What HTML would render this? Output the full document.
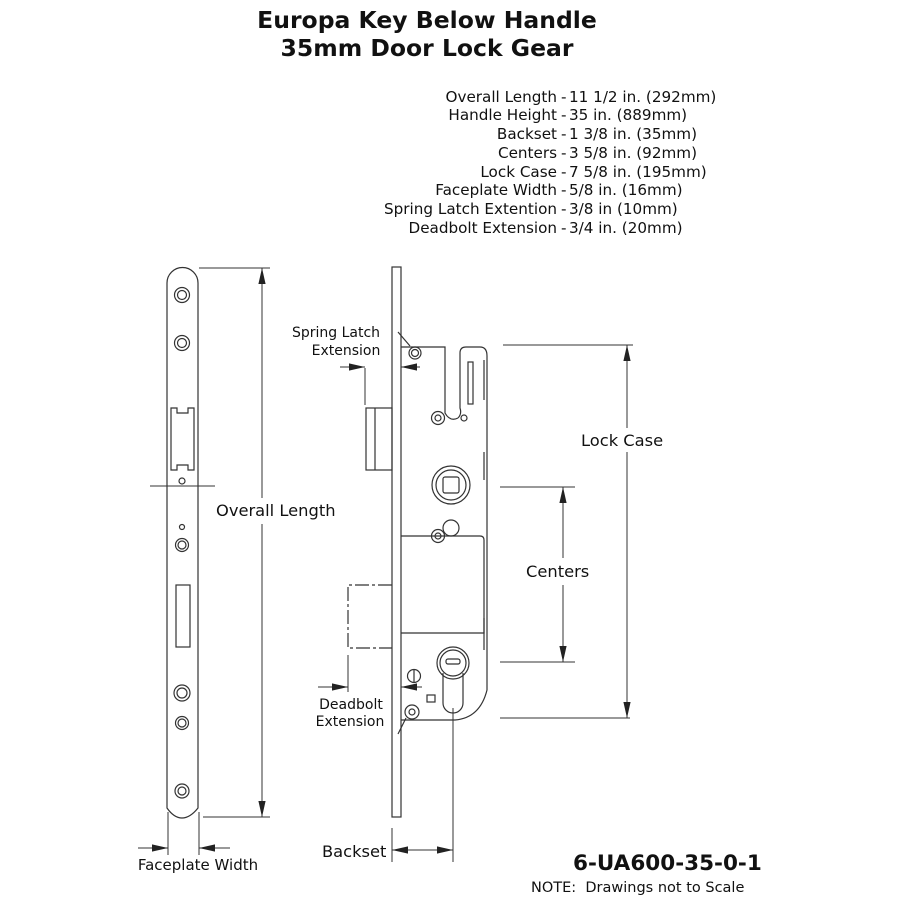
<!DOCTYPE html>
<html><head><style>
body{margin:0;background:#fff;}
svg text{font-family:"DejaVu Sans","Liberation Sans",sans-serif;fill:#111;white-space:pre;}
</style></head><body>
<svg width="900" height="900" viewBox="0 0 900 900" xmlns="http://www.w3.org/2000/svg">
<defs>
<marker id="a" viewBox="0 0 10 10" refX="10" refY="5" markerWidth="16" markerHeight="9" orient="auto-start-reverse" markerUnits="userSpaceOnUse" preserveAspectRatio="none"><path d="M0,1 L10,5 L0,9 z" fill="#222"/></marker>
</defs>
<text x="427" y="28" font-size="23.5" font-weight="bold" text-anchor="middle">Europa Key Below Handle</text>
<text x="427" y="56" font-size="23.5" font-weight="bold" text-anchor="middle">35mm Door Lock Gear</text>
<g font-size="15.2" text-anchor="end">
<text x="557" y="102">Overall Length</text>
<text x="557" y="120">Handle Height</text>
<text x="557" y="139">Backset</text>
<text x="557" y="158">Centers</text>
<text x="557" y="177">Lock Case</text>
<text x="557" y="195">Faceplate Width</text>
<text x="557" y="214">Spring Latch Extention</text>
<text x="557" y="233">Deadbolt Extension</text>
</g>
<g font-size="15.2">
<text x="561" y="102">-</text><text x="561" y="120">-</text><text x="561" y="139">-</text><text x="561" y="158">-</text>
<text x="561" y="177">-</text><text x="561" y="195">-</text><text x="561" y="214">-</text><text x="561" y="233">-</text>
<text x="569" y="102">11 1/2 in. (292mm)</text>
<text x="569" y="120">35 in. (889mm)</text>
<text x="569" y="139">1 3/8 in. (35mm)</text>
<text x="569" y="158">3 5/8 in. (92mm)</text>
<text x="569" y="177">7 5/8 in. (195mm)</text>
<text x="569" y="195">5/8 in. (16mm)</text>
<text x="569" y="214">3/8 in (10mm)</text>
<text x="569" y="233">3/4 in. (20mm)</text>
</g>
<g fill="none" stroke="#333" stroke-width="1.2">
<path d="M167,283 A15.5,15.5 0 0 1 198,283 L198,808 Q190,818 182,818 Q174,818 167,808 Z"/>
<circle cx="182" cy="295" r="7.5"/><circle cx="182" cy="295" r="4.5"/>
<circle cx="182" cy="343" r="7.5"/><circle cx="182" cy="343" r="4.5"/>
<path d="M171,408 H177 V413 H188 V408 H194 V470 H188 V465 H177 V470 H171 Z"/>
<circle cx="182" cy="481" r="3"/><circle cx="182" cy="527" r="2.5"/>
<circle cx="182" cy="545" r="6.5"/><circle cx="182" cy="545" r="4"/>
<rect x="176" y="585" width="14" height="62"/>
<circle cx="182" cy="693" r="8"/><circle cx="182" cy="693" r="5"/>
<circle cx="182" cy="723" r="6.5"/><circle cx="182" cy="723" r="4"/>
<circle cx="182" cy="791" r="7"/><circle cx="182" cy="791" r="4"/>
<rect x="392" y="267" width="9" height="550"/>
<rect x="366" y="408" width="26" height="62"/><line x1="375" y1="408" x2="375" y2="470"/>
<path d="M392,585 H348 V648 H392" stroke-dasharray="14,3,3,3"/>
<path d="M401,347 H445 V413 Q450,422 458,418"/>
<circle cx="464" cy="418" r="3"/>
<path d="M458,418 Q462,414 460,408 V353 Q460,347 466,347 H480 Q487,347 487,356 V690 Q480,718 455,720 H401"/>
<path d="M484,360 V400 M484,452 V480 M484,618 V650"/>
<rect x="468" y="362" width="5" height="42"/>
<circle cx="415" cy="353" r="6"/><circle cx="415" cy="353" r="3.5"/>
<path d="M398,332 L410,346"/>
<circle cx="438" cy="418" r="6.5"/><circle cx="438" cy="418" r="3"/>
<circle cx="451" cy="485" r="19"/><circle cx="451" cy="485" r="15"/>
<rect x="443" y="477" width="16" height="16" rx="2"/>
<circle cx="451" cy="528" r="8"/>
<circle cx="438" cy="536" r="6.5"/><circle cx="438" cy="536" r="3"/>
<path d="M401,536 H480 Q484,536 484,540 V633 H401"/>
<circle cx="453" cy="663" r="16"/><circle cx="453" cy="663" r="13"/>
<rect x="446" y="659" width="14" height="5" rx="2"/>
<path d="M443,673 V703 A10,10 0 0 0 463,703 V673"/>
<circle cx="414" cy="676" r="6.5"/><line x1="414" y1="670" x2="414" y2="682"/>
<rect x="427" y="695" width="8" height="7"/>
<circle cx="412" cy="712" r="7"/><circle cx="412" cy="712" r="3"/>
<path d="M406,718 L398,734"/>
</g>
<g stroke="#333" stroke-width="1" fill="none">
<line x1="199" y1="268" x2="270" y2="268"/><line x1="203" y1="817" x2="270" y2="817"/>
<line x1="262" y1="268" x2="262" y2="498" marker-start="url(#a)"/>
<line x1="262" y1="524" x2="262" y2="817" marker-end="url(#a)"/>
<line x1="150" y1="486" x2="215" y2="486"/>
<line x1="168" y1="812" x2="168" y2="855"/><line x1="199" y1="812" x2="199" y2="855"/>
<line x1="138" y1="848" x2="168" y2="848" marker-end="url(#a)"/>
<line x1="230" y1="848" x2="199" y2="848" marker-end="url(#a)"/>
<line x1="365" y1="368" x2="365" y2="405"/>
<line x1="340" y1="367" x2="365" y2="367" marker-end="url(#a)"/>
<line x1="420" y1="367" x2="401" y2="367" marker-end="url(#a)"/>
<line x1="348" y1="655" x2="348" y2="692"/>
<line x1="318" y1="687" x2="348" y2="687" marker-end="url(#a)"/>
<line x1="422" y1="687" x2="401" y2="687" marker-end="url(#a)"/>
<line x1="392" y1="828" x2="392" y2="862"/><line x1="453" y1="708" x2="453" y2="862"/>
<line x1="392" y1="850" x2="453" y2="850" marker-start="url(#a)" marker-end="url(#a)"/>
<line x1="503" y1="345" x2="633" y2="345"/><line x1="500" y1="718" x2="630" y2="718"/>
<line x1="627" y1="345" x2="627" y2="428" marker-start="url(#a)"/>
<line x1="627" y1="452" x2="627" y2="718" marker-end="url(#a)"/>
<line x1="500" y1="487" x2="575" y2="487"/><line x1="500" y1="662" x2="575" y2="662"/>
<line x1="563" y1="487" x2="563" y2="558" marker-start="url(#a)"/>
<line x1="563" y1="585" x2="563" y2="662" marker-end="url(#a)"/>
</g>
<g font-size="16.3">
<text x="216" y="516">Overall Length</text>
<text x="581" y="446">Lock Case</text>
<text x="526" y="577">Centers</text>
<text x="322" y="857">Backset</text>
</g>
<g font-size="14" text-anchor="middle">
<text x="336" y="337">Spring Latch</text>
<text x="346" y="355">Extension</text>
<text x="351" y="709">Deadbolt</text>
<text x="350" y="726">Extension</text>
</g>
<text x="198" y="870" font-size="15" text-anchor="middle">Faceplate Width</text>
<text x="573" y="870" font-size="21.5" font-weight="bold">6-UA600-35-0-1</text>
<text x="531" y="892" font-size="14.5">NOTE:  Drawings not to Scale</text>
</svg>
</body></html>
